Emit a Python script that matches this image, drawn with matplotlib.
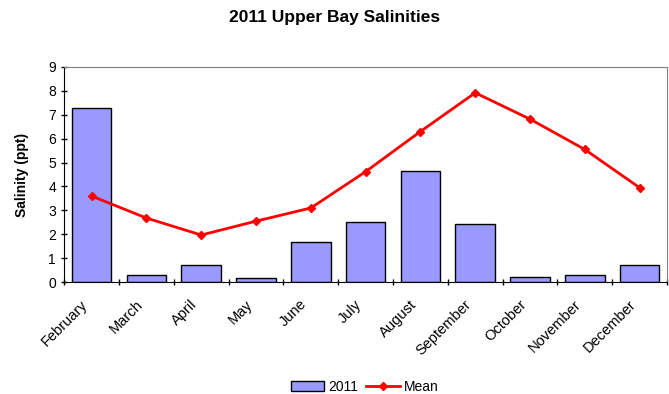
import numpy as np
import matplotlib.pyplot as plt
import matplotlib.transforms as mtransforms

months = ['February', 'March', 'April', 'May', 'June', 'July', 'August',
          'September', 'October', 'November', 'December']
sal_2011 = [7.28, 0.28, 0.72, 0.19, 1.68, 2.52, 4.65, 2.42, 0.22, 0.28, 0.72]
sal_mean = [3.6, 2.68, 1.97, 2.55, 3.1, 4.62, 6.3, 7.92, 6.82, 5.55, 3.95]

plt.rcParams['font.family'] = ['Liberation Sans', 'DejaVu Sans']

fig = plt.figure(figsize=(6.69, 3.94), dpi=100)
ax = fig.add_axes([0.096, 0.284, 0.901, 0.546])

x = np.arange(len(months))
bars = ax.bar(x, sal_2011, width=0.72, color='#9999ff', edgecolor='black',
              linewidth=1, label='2011', zorder=2)
line, = ax.plot(x, sal_mean, color='red', linewidth=2, marker='D',
                markersize=4, label='Mean', zorder=3)

ax.set_xlim(-0.5, len(months) - 0.5)
ax.set_ylim(0, 9)
ax.set_yticks(range(10))
ax.set_xticks(x)
ax.set_xticklabels([])
ax.set_xticks(np.arange(len(months) + 1) - 0.5, minor=True)
ax.tick_params(axis='x', which='major', length=0)
ax.tick_params(axis='x', which='minor', length=5, direction='inout', width=1)
ax.tick_params(axis='y', length=5, direction='inout', width=1, labelsize=10)

# rotated month labels, placed a bit below and left of each category
trans = mtransforms.blended_transform_factory(ax.transData, ax.transAxes)
shift = mtransforms.ScaledTranslation(-6 / 100, -20 / 100, fig.dpi_scale_trans)
for xi, m in zip(x, months):
    ax.text(xi, 0, m, transform=trans + shift, rotation=45, ha='right',
            va='center', rotation_mode='anchor', fontsize=10.5)

ax.spines['top'].set_color('gray')
ax.spines['right'].set_color('gray')

ax.set_ylabel('Salinity (ppt)', fontsize=10, fontweight='bold', labelpad=14)
fig.suptitle('2011 Upper Bay Salinities', fontsize=12.5, fontweight='bold',
             y=0.975)

fig.legend([bars, line], ['2011', 'Mean'], loc='center',
           bbox_to_anchor=(0.545, 0.018), ncol=2, frameon=False, fontsize=10,
           handlelength=2.4, columnspacing=0.6, handletextpad=0.3)

fig.savefig('out.png', dpi=100)
